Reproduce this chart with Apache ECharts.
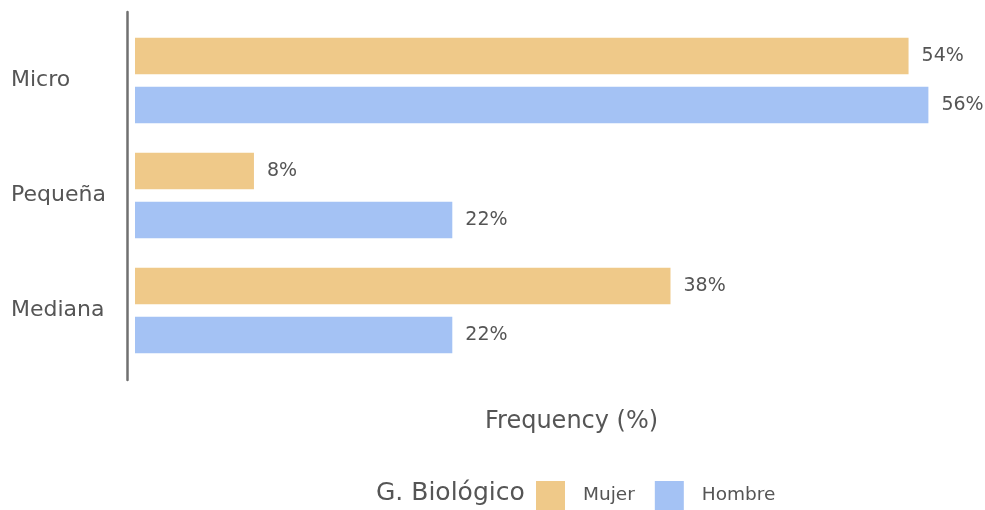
<!DOCTYPE html>
<html>
<head>
<meta charset="utf-8">
<script src="https://cdn.jsdelivr.net/npm/echarts@6/dist/echarts.min.js"></script>
<style>
html,body{margin:0;padding:0;background:#fff;}
#chart{width:985px;height:510px;}
</style>
</head>
<body>
<div id="chart"></div>
<script>
const categories = ['Micro', 'Pequeña', 'Mediana'];
const seriesNames = ['Mujer', 'Hombre'];
const mujerValues = [54.17, 8.33, 37.5];
const hombreValues = [55.56, 22.22, 22.22];
const xAxisTitle = 'Frequency (%)';
const legendTitle = 'G. Biológico';

const FONT = 'DejaVu Sans';
const TXT = '#555555';
const chart = echarts.init(document.getElementById('chart'), null, {renderer: 'canvas'});

const labelCfg = {
  show: true,
  position: 'right',
  distance: 13,
  fontFamily: FONT,
  fontSize: 19,
  color: TXT,
  formatter: p => Math.round(p.value) + '%'
};

chart.setOption({
  animation: false,
  backgroundColor: '#ffffff',
  title: [
    {text: xAxisTitle, left: 485, top: 410, padding: 0,
     textStyle: {fontFamily: FONT, fontSize: 24, fontWeight: 'normal', color: TXT}},
    {text: legendTitle, left: 376, top: 481, padding: 0,
     textStyle: {fontFamily: FONT, fontSize: 25, fontWeight: 'normal', color: TXT}}
  ],
  legend: {
    data: seriesNames,
    left: 536, top: 481, padding: 0,
    icon: 'rect', itemWidth: 29, itemHeight: 29, itemGap: 20,
    textStyle: {fontFamily: FONT, fontSize: 18.5, color: TXT, padding: [0, 0, 0, 13]}
  },
  grid: [
    {left: 135, top: 23, height: 345, width: 58 * 14.28, containLabel: false},
    {left: 127, top: 12, height: 368, width: 10, containLabel: false}
  ],
  xAxis: [
    {type: 'value', gridIndex: 0, min: 0, max: 58, show: false},
    {type: 'value', gridIndex: 1, min: 0, max: 1, show: false}
  ],
  yAxis: [
    {type: 'category', gridIndex: 0, data: categories, inverse: true,
     axisLine: {show: false}, axisTick: {show: false}, splitLine: {show: false},
     axisLabel: {align: 'left', margin: 124, fontFamily: FONT, fontSize: 22, color: TXT}},
    {type: 'value', gridIndex: 1, min: 0, max: 1,
     axisLine: {show: true, lineStyle: {color: '#707070', width: 2.5}},
     axisTick: {show: false}, axisLabel: {show: false}, splitLine: {show: false}}
  ],
  series: [
    {name: seriesNames[0], type: 'bar', data: mujerValues, xAxisIndex: 0, yAxisIndex: 0,
     barWidth: 36.5, barGap: '34%', itemStyle: {color: '#EFC989'}, label: labelCfg},
    {name: seriesNames[1], type: 'bar', data: hombreValues, xAxisIndex: 0, yAxisIndex: 0,
     barWidth: 36.5, barGap: '34%', itemStyle: {color: '#A4C2F4'}, label: labelCfg}
  ]
});
</script>
</body>
</html>
